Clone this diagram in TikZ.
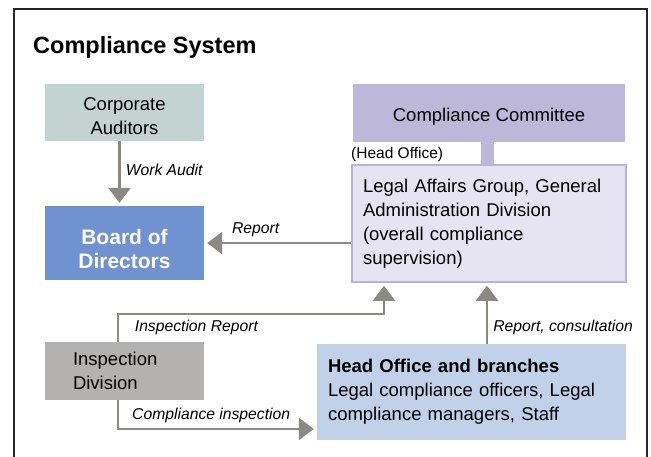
\documentclass[tikz,border=0pt]{standalone}
\usepackage{fontspec}
\setmainfont{Liberation Sans}
\usetikzlibrary{arrows.meta}
\definecolor{auditgray}{HTML}{C3D3D2}
\definecolor{boardblue}{HTML}{7092D0}
\definecolor{committeepurple}{HTML}{BDB7DA}
\definecolor{legalfill}{HTML}{E6E4F2}
\definecolor{legalline}{HTML}{B9B3D9}
\definecolor{inspectgray}{HTML}{B3B2B0}
\definecolor{branchblue}{HTML}{C1D1EA}
\definecolor{flowgray}{HTML}{8C8985}
\begin{document}
\begin{tikzpicture}[x=1pt, y=-1pt,
        every node/.style={inner sep=0pt, font=\fontsize{18.5}{24}\selectfont},
        box/.style={rectangle, align=center},
        lbl/.style={font=\fontsize{15.7}{18}\selectfont\itshape, inner sep=5pt},
        flow/.style={draw=flowgray, line width=2.5pt, shorten >=3pt, -{Triangle[width=22pt,length=15pt]}}]
    \useasboundingbox (0,0) rectangle (651,456);
    \draw[black!85, line width=1.5pt] (14,9) rectangle (647,470);
    \node[anchor=base west, font=\fontsize{23.5}{28}\selectfont\bfseries] (title) at (33,53) {Compliance System};

    \node[box, fill=auditgray, minimum width=159pt, minimum height=57pt] (audit) at (124.5,112.5) {\rule{0pt}{19.5pt}Corporate\\Auditors};
    \node[box, fill=boardblue, text=white, font=\fontsize{21}{24}\selectfont\bfseries, minimum width=159pt, minimum height=74pt] (board) at (124.5,243) {\rule{0pt}{27pt}Board of\\Directors};
    \node[box, fill=inspectgray, align=left, text width=103pt, minimum width=159pt, minimum height=58pt] (inspect) at (124.5,371) {Inspection\\Division};
    \node[box, fill=committeepurple, minimum width=272pt, minimum height=58pt] (committee) at (489,113) {\rule{0pt}{21pt}Compliance Committee};
    \node[box, fill=legalfill, draw=legalline, line width=1.5pt, align=left, text width=252pt, minimum width=274pt, minimum height=117pt] (legal) at (489,223.5) {Legal Affairs Group, General\\Administration Division\\(overall compliance\\supervision)};
    \node[anchor=base west, font=\fontsize{15.5}{18}\selectfont] (office) at (351,158) {(Head Office)};
    \node[box, fill=branchblue, align=left, text width=287pt, minimum width=309pt, minimum height=96pt] (branches) at (471.5,392) {\textbf{Head Office and branches}\\Legal compliance officers, Legal\\compliance managers, Staff};

    \draw[committeepurple, line width=13pt, shorten >=0.75pt] ([xshift=-1.5pt]committee.south) -- ([xshift=-1.5pt]legal.north);
    \draw[flow] ([xshift=-5pt]audit.south) -- node[lbl, right, pos=0.45] {Work Audit} ([xshift=-5pt]board.north);
    \draw[flow] (board.east -| legal.west) -- node[lbl, above, pos=0.65] {Report} (board.east);
    \draw[flow] ([xshift=-6.5pt]inspect.north) -- ++(0,-28) -| node[lbl, below right, pos=0.02] {Inspection Report} ([xshift=-105pt]legal.south);
    \draw[flow] ([xshift=-6.5pt]inspect.south) |- node[lbl, above right, pos=0.52] {Compliance inspection} ([yshift=-37pt]branches.west);
    \coordinate (consult) at ([xshift=15.5pt]branches.north);
    \draw[flow] (consult) -- node[lbl, right, pos=0.27] {Report, consultation} (consult |- legal.south);
\end{tikzpicture}
\end{document}
